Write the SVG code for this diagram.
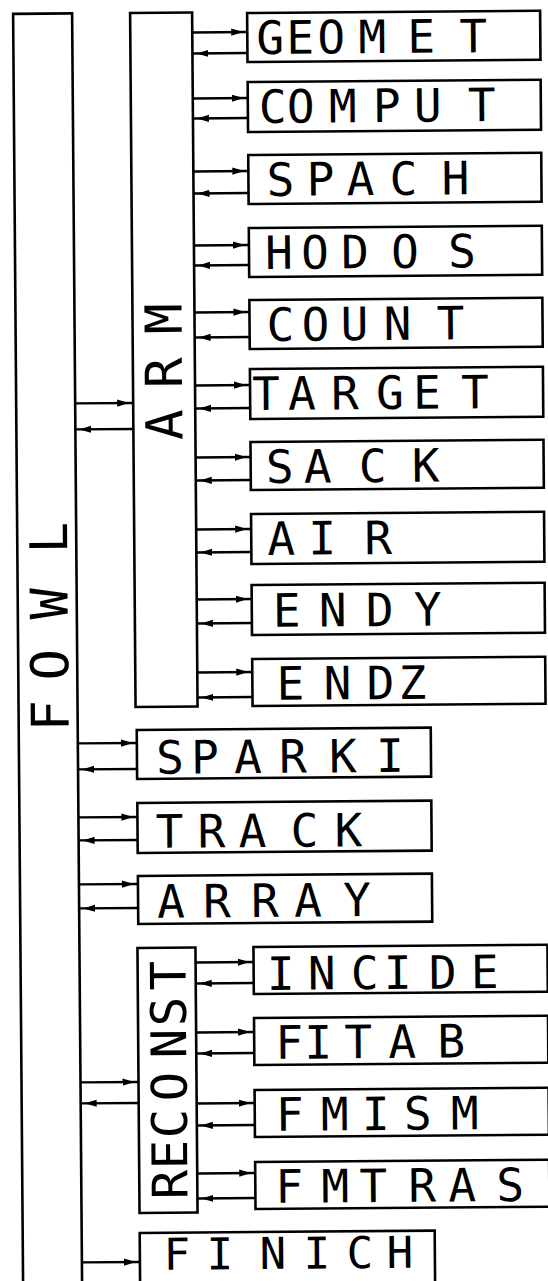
<svg xmlns="http://www.w3.org/2000/svg" width="548" height="1281" viewBox="0 0 548 1281">
<style>
.box{fill:none;stroke:#000;stroke-width:2.6}
.lbl{font-family:"DejaVu Sans Mono","Liberation Mono",monospace;font-size:46px;fill:#000;text-anchor:middle}
.ar{stroke:#000;stroke-width:2.4;fill:none;marker-end:url(#ah)}
</style>
<defs>
<marker id="ah" markerUnits="userSpaceOnUse" markerWidth="16" markerHeight="8" viewBox="0 0 16 8" refX="16" refY="4" orient="auto">
<path d="M0,0.4 L12,4 L0,7.6 z" fill="#000"/>
</marker>
</defs>
<rect x="0" y="0" width="548" height="1281" fill="#fff"/>
<g transform="rotate(-0.45)">
<g id="fowl"><rect class="box" x="13" y="14" width="59" height="1300"/>
<text class="lbl" style="font-size:52px" transform="rotate(-90)" x="-716 -665 -604 -538" y="63">FOWL</text></g>
<g id="arm"><rect class="box" x="130" y="14" width="62" height="694"/>
<text class="lbl" style="font-size:51px" transform="rotate(-90)" x="-426 -374 -320" y="179">ARM</text></g>
<g id="geomet"><rect class="box" x="247" y="15" width="293" height="49"/><text class="lbl" x="270 300 331 372 421 473" y="56">GEOMET</text></g>
<g id="comput"><rect class="box" x="247" y="84" width="293" height="50"/><text class="lbl" x="272 300 342 386 427 481" y="125">COMPUT</text></g>
<g id="spach"><rect class="box" x="247" y="157" width="293" height="49"/><text class="lbl" x="279 319 359 402 454" y="198">SPACH</text></g>
<g id="hodos"><rect class="box" x="247" y="230" width="293" height="49"/><text class="lbl" x="277 313 353 403 460" y="271">HODOS</text></g>
<g id="count"><rect class="box" x="247" y="302" width="293" height="49"/><text class="lbl" x="278 313 352 395 448" y="343">COUNT</text></g>
<g id="target"><rect class="box" x="247" y="371" width="293" height="50"/><text class="lbl" x="263 299 342 387 424 472" y="412">TARGET</text></g>
<g id="sack"><rect class="box" x="247" y="444" width="293" height="48"/><text class="lbl" x="276 314 369 422" y="485">SACK</text></g>
<g id="air"><rect class="box" x="247" y="516" width="293" height="50"/><text class="lbl" x="277 318 374" y="557">AIR</text></g>
<g id="endy"><rect class="box" x="247" y="587" width="293" height="50"/><text class="lbl" x="282 328 375 423" y="629">ENDY</text></g>
<g id="endz"><rect class="box" x="247" y="661" width="293" height="47"/><text class="lbl" x="285 332 375 407" y="702">ENDZ</text></g>
<g id="sparki"><rect class="box" x="131" y="731" width="294" height="49"/><text class="lbl" x="164 199 242 287 337 384" y="775">SPARKI</text></g>
<g id="track"><rect class="box" x="131" y="804" width="294" height="50"/><text class="lbl" x="163 205 246 298 342" y="849">TRACK</text></g>
<g id="array"><rect class="box" x="131" y="877" width="294" height="48"/><text class="lbl" x="164 210 258 301 350" y="919">ARRAY</text></g>
<g id="reconst"><rect class="box" x="130" y="949" width="58" height="265"/>
<text class="lbl" style="font-size:49px" transform="rotate(-90)" x="-1186 -1156 -1125 -1088 -1045 -1013 -977" y="178">RECONST</text></g>
<g id="incide"><rect class="box" x="246" y="949" width="294" height="47"/><text class="lbl" x="273 314 357 390 435 477" y="992">INCIDE</text></g>
<g id="fitab"><rect class="box" x="246" y="1020" width="294" height="47"/><text class="lbl" x="281 310 350 394 443" y="1061">FITAB</text></g>
<g id="fmism"><rect class="box" x="246" y="1092" width="294" height="47"/><text class="lbl" x="281 326 367 409 456" y="1133">FMISM</text></g>
<g id="fmtras"><rect class="box" x="246" y="1164" width="294" height="47"/><text class="lbl" x="280 326 364 413 453 501" y="1205">FMTRAS</text></g>
<g id="finich"><rect class="box" x="130" y="1234" width="295" height="80"/><text class="lbl" style="font-size:44px" x="167 210 263 307 350 390" y="1271">FINICH</text></g>
<g id="connectors">
<line class="ar" x1="72" y1="404" x2="130" y2="404"/><line class="ar" x1="130" y1="430" x2="72" y2="430"/>
<line class="ar" x1="192" y1="34" x2="247" y2="34"/><line class="ar" x1="247" y1="55" x2="192" y2="55"/>
<line class="ar" x1="192" y1="100" x2="247" y2="100"/><line class="ar" x1="247" y1="120" x2="192" y2="120"/>
<line class="ar" x1="192" y1="173" x2="247" y2="173"/><line class="ar" x1="247" y1="195" x2="192" y2="195"/>
<line class="ar" x1="192" y1="247" x2="247" y2="247"/><line class="ar" x1="247" y1="267" x2="192" y2="267"/>
<line class="ar" x1="192" y1="314" x2="247" y2="314"/><line class="ar" x1="247" y1="339" x2="192" y2="339"/>
<line class="ar" x1="192" y1="387" x2="247" y2="387"/><line class="ar" x1="247" y1="410" x2="192" y2="410"/>
<line class="ar" x1="192" y1="459" x2="247" y2="459"/><line class="ar" x1="247" y1="482" x2="192" y2="482"/>
<line class="ar" x1="192" y1="531" x2="247" y2="531"/><line class="ar" x1="247" y1="554" x2="192" y2="554"/>
<line class="ar" x1="192" y1="601" x2="247" y2="601"/><line class="ar" x1="247" y1="625" x2="192" y2="625"/>
<line class="ar" x1="192" y1="674" x2="247" y2="674"/><line class="ar" x1="247" y1="699" x2="192" y2="699"/>
<line class="ar" x1="72" y1="744" x2="131" y2="744"/><line class="ar" x1="131" y1="770" x2="72" y2="770"/>
<line class="ar" x1="72" y1="818" x2="131" y2="818"/><line class="ar" x1="131" y1="841" x2="72" y2="841"/>
<line class="ar" x1="72" y1="885" x2="131" y2="885"/><line class="ar" x1="131" y1="909" x2="72" y2="909"/>
<line class="ar" x1="72" y1="1083" x2="130" y2="1083"/><line class="ar" x1="130" y1="1104" x2="72" y2="1104"/>
<line class="ar" x1="188" y1="964" x2="246" y2="964"/><line class="ar" x1="246" y1="985" x2="188" y2="985"/>
<line class="ar" x1="188" y1="1034" x2="246" y2="1034"/><line class="ar" x1="246" y1="1055" x2="188" y2="1055"/>
<line class="ar" x1="188" y1="1105" x2="246" y2="1105"/><line class="ar" x1="246" y1="1127" x2="188" y2="1127"/>
<line class="ar" x1="188" y1="1175" x2="246" y2="1175"/><line class="ar" x1="246" y1="1200" x2="188" y2="1200"/>
<line class="ar" x1="72" y1="1263" x2="130" y2="1263"/>
</g>
</g>
</svg>
